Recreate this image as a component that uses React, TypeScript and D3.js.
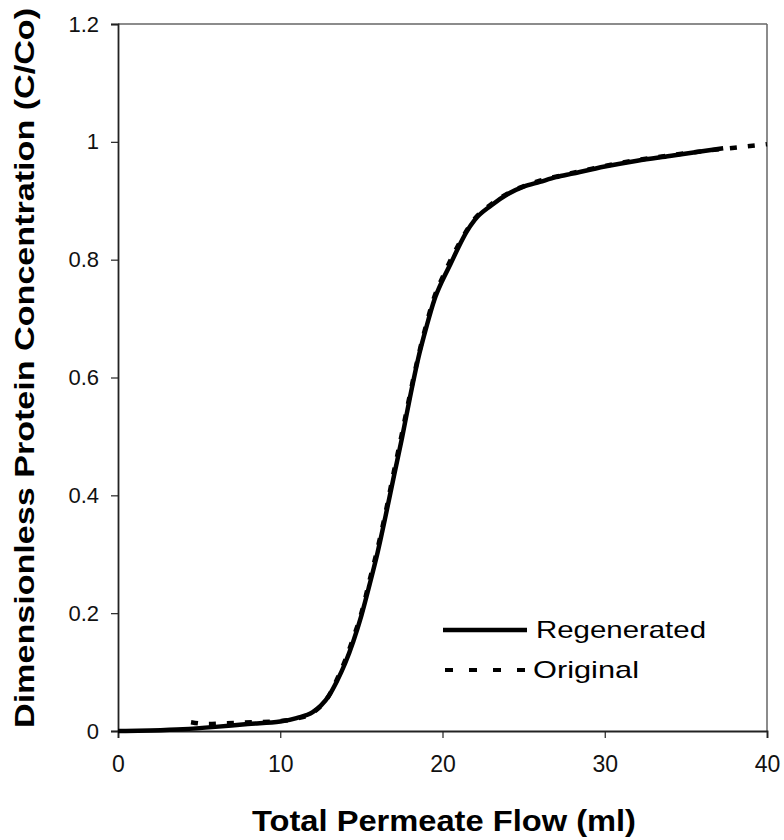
import React, { useEffect, useRef } from "react";
import * as d3 from "d3";

// Regenerated curve (solid)
const regenFlow = [0, 2, 4, 6, 8, 10, 11, 12, 12.5, 13, 13.5, 14, 14.5, 15, 15.5, 16, 16.5, 17, 17.5, 18, 18.5, 19, 19.5, 20, 20.5, 21, 21.5, 22, 23, 24, 25, 26, 27, 28, 30, 32, 34, 36, 37.3];
const regenConc = [0, 0.001, 0.003, 0.007, 0.012, 0.016, 0.022, 0.032, 0.043, 0.06, 0.085, 0.115, 0.152, 0.196, 0.248, 0.303, 0.366, 0.432, 0.497, 0.567, 0.632, 0.685, 0.732, 0.765, 0.793, 0.822, 0.848, 0.868, 0.892, 0.911, 0.924, 0.932, 0.94, 0.946, 0.958, 0.968, 0.976, 0.984, 0.989];

// Original curve (dashed)
const origFlow = [4.5, 5.5, 6.5, 7.5, 8.5, 10, 11, 12, 13, 13.5, 14, 14.5, 15, 15.5, 16, 16.5, 17, 17.5, 18, 18.5, 19, 19.5, 20, 21, 22, 23, 24, 26, 28, 30, 32, 34, 36, 38, 40];
const origConc = [0.015, 0.012, 0.013, 0.014, 0.015, 0.017, 0.021, 0.031, 0.06, 0.088, 0.12, 0.158, 0.2, 0.255, 0.31, 0.372, 0.44, 0.505, 0.572, 0.635, 0.69, 0.737, 0.77, 0.826, 0.87, 0.894, 0.912, 0.934, 0.947, 0.959, 0.969, 0.977, 0.984, 0.99, 0.996];

const xTicks = [0, 10, 20, 30, 40];
const yTicks = [0, 0.2, 0.4, 0.6, 0.8, 1, 1.2];
const legendLabels = ["Regenerated", "Original"];
const legendWidths = [170, 106];

const FONT = "'Liberation Sans', Arial, sans-serif";

export default function App() {
  const ref = useRef<SVGSVGElement>(null);

  useEffect(() => {
    const w = 784;
    const h = 840;
    const left = 118;
    const right = 767;
    const top = 24;
    const bottom = 731;

    const x = d3.scaleLinear().domain([0, 40]).range([left, right]);
    const y = d3.scaleLinear().domain([0, 1.2]).range([bottom, top]);

    const svg = d3.select(ref.current).html("").attr("width", w).attr("height", h);
    svg.append("rect").attr("width", w).attr("height", h).attr("fill", "#fff");

    // frame: top/right lighter
    svg.append("line").attr("x1", left).attr("x2", right).attr("y1", top).attr("y2", top)
      .attr("stroke", "#666").attr("stroke-width", 1.5);
    svg.append("line").attr("x1", right).attr("x2", right).attr("y1", top).attr("y2", bottom)
      .attr("stroke", "#666").attr("stroke-width", 1.5);

    // y axis
    const yAxis = d3.axisLeft(y).tickValues(yTicks).tickSize(7).tickPadding(12)
      .tickFormat((d) => String(d));
    const gy = svg.append("g").attr("transform", `translate(${left},0)`).call(yAxis);
    gy.select(".domain").attr("stroke", "#222").attr("stroke-width", 1.8);
    gy.selectAll(".tick line").attr("stroke", "#222").attr("stroke-width", 1.2);
    gy.selectAll("text").attr("font-family", FONT).attr("font-size", 22).attr("fill", "#111");

    // x axis
    const xAxis = d3.axisBottom(x).tickValues(xTicks).tickSize(7).tickPadding(18)
      .tickFormat((d) => String(d));
    const gx = svg.append("g").attr("transform", `translate(0,${bottom})`).call(xAxis);
    gx.select(".domain").attr("stroke", "#222").attr("stroke-width", 1.8);
    gx.selectAll(".tick line").attr("stroke", "#222").attr("stroke-width", 1.2);
    gx.selectAll("text").attr("font-family", FONT).attr("font-size", 23).attr("fill", "#111");

    const line = d3.line<[number, number]>()
      .x((d) => x(d[0]))
      .y((d) => y(d[1]))
      .curve(d3.curveMonotoneX);

    const origData = origFlow.map((v, i) => [v, origConc[i]] as [number, number]);
    const regenData = regenFlow.map((v, i) => [v, regenConc[i]] as [number, number]);

    svg.append("path").datum(origData).attr("d", line).attr("fill", "none")
      .attr("stroke", "#000").attr("stroke-width", 4.5).attr("stroke-dasharray", "7,11");
    svg.append("path").datum(regenData).attr("d", line).attr("fill", "none")
      .attr("stroke", "#000").attr("stroke-width", 4.5).attr("stroke-linejoin", "round");

    // legend
    const lg = svg.append("g");
    lg.append("line").attr("x1", 443).attr("x2", 527).attr("y1", 630).attr("y2", 630)
      .attr("stroke", "#000").attr("stroke-width", 4.5);
    lg.append("line").attr("x1", 445).attr("x2", 526).attr("y1", 670).attr("y2", 670)
      .attr("stroke", "#000").attr("stroke-width", 4).attr("stroke-dasharray", "8,16");
    legendLabels.forEach((t, i) => {
      lg.append("text").attr("x", i === 0 ? 536 : 533).attr("y", 638 + i * 40).text(t)
        .attr("font-family", FONT).attr("font-size", 24).attr("fill", "#000")
        .attr("textLength", legendWidths[i]).attr("lengthAdjust", "spacingAndGlyphs");
    });

    // axis titles
    svg.append("text").attr("x", 444).attr("y", 831)
      .attr("text-anchor", "middle").attr("font-family", FONT).attr("font-weight", "bold")
      .attr("font-size", 29).attr("fill", "#000")
      .attr("textLength", 384).attr("lengthAdjust", "spacingAndGlyphs")
      .text("Total Permeate Flow (ml)");
    svg.append("text").attr("transform", "rotate(-90)").attr("x", -368).attr("y", 34)
      .attr("text-anchor", "middle").attr("font-family", FONT).attr("font-weight", "bold")
      .attr("font-size", 28).attr("fill", "#000")
      .attr("textLength", 720).attr("lengthAdjust", "spacingAndGlyphs")
      .text("Dimensionless Protein Concentration (C/Co)");
  }, []);

  return <svg ref={ref} style={{ position: "absolute", left: 0, top: 0 }} />;
}
